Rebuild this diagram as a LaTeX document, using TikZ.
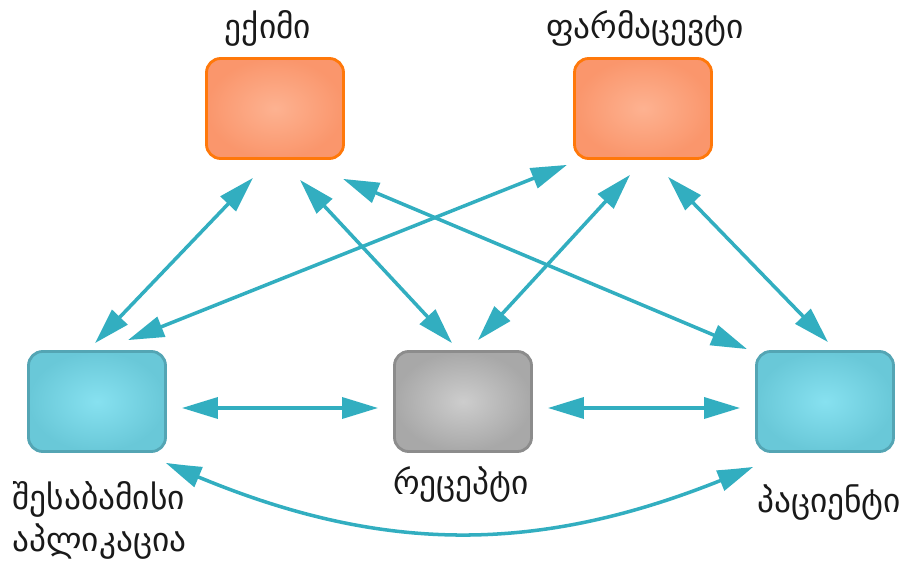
\documentclass[tikz,border=0pt]{standalone}
\usepackage{fontspec}
\setmainfont{DejaVu Sans}
\usepackage{tikz}
\usetikzlibrary{arrows.meta,bending,positioning}
\definecolor{linkteal}{RGB}{50, 174, 192}
\definecolor{docedge}{RGB}{255, 120, 10}
\definecolor{docin}{RGB}{253, 178, 145}
\definecolor{docout}{RGB}{250, 150, 108}
\definecolor{appedge}{RGB}{84, 165, 180}
\definecolor{appin}{RGB}{135, 225, 240}
\definecolor{appout}{RGB}{105, 200, 216}
\definecolor{rxedge}{RGB}{140, 140, 140}
\definecolor{rxin}{RGB}{205, 205, 205}
\definecolor{rxout}{RGB}{168, 168, 168}
\definecolor{inkdark}{RGB}{25, 25, 25}

\tikzset{
  card/.style={rounded corners=8pt, line width=1.6pt,
    minimum width=2.74cm, minimum height=2.0cm, inner sep=0pt},
  person/.style={card, draw=docedge, inner color=docin, outer color=docout},
  service/.style={card, draw=appedge, inner color=appin, outer color=appout},
  paper/.style={card, draw=rxedge, inner color=rxin, outer color=rxout},
  caption/.style={text=inkdark, font=\fontsize{19}{24}\selectfont, inner sep=0pt},
  link/.style={linkteal, line width=2pt,
    {Triangle[length=0.72cm, width=0.42cm, bend]}-{Triangle[length=0.72cm, width=0.42cm, bend]}}
}

\begin{document}
\begin{tikzpicture}
    \useasboundingbox (0,0) rectangle (18.16,11.2);

    %% actors on top, the rest below
    \node[person]  (doctor)  at (5.5,9.03)  {};
    \node[person]  (pharma)  at (12.86,9.03) {};
    \node[service] (app)     at (1.94,3.17)  {};
    \node[paper]   (rx)      at (9.26,3.17)  {};
    \node[service] (patient) at (16.5,3.17)  {};

    %% captions, set on their baselines
    \node[caption, anchor=base, xshift=-0.14cm, yshift=0.38cm] (doctorlbl)
      at (doctor.north) {ექიმი};
    \node[caption, anchor=base, xshift=0.04cm, yshift=0.38cm] (pharmalbl)
      at (pharma.north) {ფარმაცევტი};
    \node[caption, anchor=base, xshift=-0.04cm, yshift=-0.84cm] (rxlbl)
      at (rx.south) {რეცეპტი};
    \node[caption, anchor=base, xshift=0.08cm, yshift=-1.2cm] (patientlbl)
      at (patient.south) {პაციენტი};
    \node[caption, align=left, anchor=north west, xshift=-0.3cm, yshift=-0.56cm]
      (applbl) at (app.south west) {შესაბამისი\\აპლიკაცია};

    %% links between the cards
    \draw[link] ([xshift=-0.44cm, yshift=-0.36cm]doctor.south)
      -- ([xshift=-0.04cm, yshift=0.14cm]app.north);
    \draw[link] ([xshift=-1.52cm, yshift=-0.1cm]pharma.south)
      -- ([xshift=0.62cm, yshift=0.2cm]app.north);
    \draw[link] ([xshift=0.5cm, yshift=-0.4cm]doctor.south)
      -- ([xshift=-0.22cm, yshift=0.14cm]rx.north);
    \draw[link] ([xshift=1.36cm, yshift=-0.38cm]doctor.south)
      -- ([xshift=-1.56cm, yshift=0.02cm]patient.north);
    \draw[link] ([xshift=-0.26cm, yshift=-0.3cm]pharma.south)
      -- ([xshift=0.3cm, yshift=0.2cm]rx.north);
    \draw[link] ([xshift=0.5cm, yshift=-0.34cm]pharma.south)
      -- ([xshift=0.06cm, yshift=0.16cm]patient.north);

    \draw[link] ([xshift=0.3cm, yshift=-0.13cm]app.east)
      -- ([xshift=-0.3cm, yshift=-0.13cm]rx.west);
    \draw[link] ([xshift=0.3cm, yshift=-0.13cm]rx.east)
      -- ([xshift=-0.3cm, yshift=-0.13cm]patient.west);

    \draw[link] ([xshift=-0.02cm, yshift=-0.2cm]app.south east)
      to[bend right=24] ([xshift=-0.04cm, yshift=-0.28cm]patient.south west);
  \end{tikzpicture}
\end{document}
